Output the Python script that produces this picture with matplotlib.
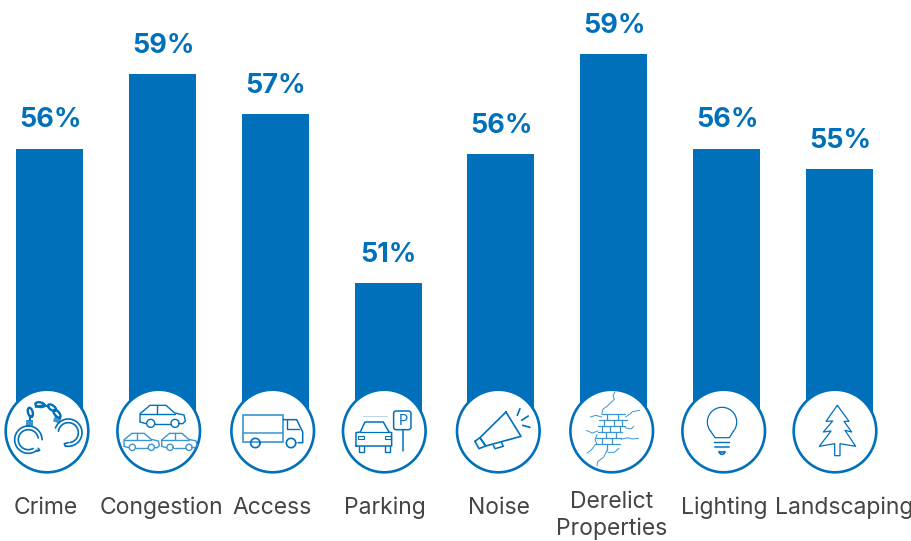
#!/usr/bin/env python3
import numpy as np
import matplotlib
matplotlib.use("Agg")
import matplotlib.pyplot as plt
from matplotlib.patches import Circle, FancyBboxPatch, Rectangle

# =========================
# 1. Data
# =========================
categories = ["Crime", "Congestion", "Access", "Parking", "Noise",
              "Derelict\nProperties", "Lighting", "Landscaping"]
values = [55.93, 58.68, 57.21, 51.0, 55.74, 59.42, 55.93, 55.19]

BLUE = "#0070BB"
LIGHT = "#3C94D0"
GREY = "#444444"
W, H = 912, 541
BASE_PX = 430          # bar foot, hidden behind the round badges
PX_PER_PCT = 27.2
BAR_STEP = 112.86
BAR_LEFT = 49.5

badge_x = [47, 158.7, 272.7, 384.3, 498.3, 611.7, 723.7, 835]
badge_y = 431
label_x = [46, 161, 272, 385, 499, 612, 724, 844]

plt.rcParams["font.family"] = ["Inter", "DejaVu Sans"]
fig = plt.figure(figsize=(W / 100, H / 100), dpi=100)

# =========================
# 2. Bars with value labels
# =========================
# y limits put 51% at pixel row 283
y_top = 51 + 283 / PX_PER_PCT
y_base = 51 - (BASE_PX - 283) / PX_PER_PCT
ax = fig.add_axes([0, 1 - BASE_PX / H, 1, BASE_PX / H])
ax.set_xlim(-BAR_LEFT / BAR_STEP, (W - BAR_LEFT) / BAR_STEP)
ax.set_ylim(y_base, y_top)
ax.axis("off")

xpos = np.arange(len(values))
bars = ax.bar(xpos, np.array(values) - y_base, bottom=y_base,
              width=67 / BAR_STEP, color=BLUE)
for rect, val in zip(bars, values):
    ax.annotate(f"{val:.0f}%", (rect.get_x() + rect.get_width() / 2, val),
                xytext=(0.5, 20.5), textcoords="offset points",
                ha="center", va="center", fontsize=19.5, fontweight="bold",
                color=BLUE, annotation_clip=False)

# =========================
# 3. Badges, in pixel coordinates
# =========================
ov = fig.add_axes([0, 0, 1, 1], facecolor="none")
ov.set_xlim(0, W)
ov.set_ylim(H, 0)
ov.axis("off")


def line(cx, pts, color=BLUE, lw=1.0, closed=False):
    # pts are offsets from the badge centre, on a 3x grid
    pts = np.array(pts, dtype=float) / 3
    if closed:
        pts = np.vstack([pts, pts[0]])
    ov.plot(cx + pts[:, 0], badge_y + pts[:, 1], color=color, lw=lw,
            solid_capstyle="round", solid_joinstyle="round")


def arc(cx, ox, oy, r, a0, a1, color=BLUE, lw=1.0):
    t = np.radians(np.linspace(a0, a1, 60))
    line(cx, np.column_stack([ox + r * np.cos(t), oy + r * np.sin(t)]), color, lw)


def car(cx, ox, oy, s=1.0, color=BLUE, lw=1.0):
    # side-on car, ox/oy = left end of the sill
    body = [(0, -5), (0, -30), (30, -55), (78, -55), (104, -32), (132, -26),
            (136, -8), (128, 0), (118, 0)]
    body = [(ox + a * s, oy + b * s) for a, b in body]
    line(cx, body, color, lw)
    line(cx, [(ox + 46 * s, oy), (ox + 92 * s, oy)], color, lw)
    line(cx, [(ox, oy - 5 * s), (ox + 18 * s, oy)], color, lw)
    line(cx, [(ox + 50 * s, oy - 55 * s), (ox + 50 * s, oy - 30 * s)], color, lw)
    line(cx, [(ox, oy - 30 * s), (ox + 104 * s, oy - 30 * s)], color, lw)
    arc(cx, ox + 32 * s, oy - 1, 12 * s, 0, 360, color, lw)
    arc(cx, ox + 105 * s, oy - 1, 12 * s, 0, 360, color, lw)


def icon_crime(cx):
    # left and right cuffs, each a double ring with an opening
    arc(cx, -56, 26, 41, 50, 360, lw=1.2)
    arc(cx, -56, 26, 30, 62, 350, lw=1.2)
    line(cx, [(-30, 61), (-22, 58), (-26, 52)], lw=1.2)
    arc(cx, 64, 5, 41, -160, 100, lw=1.2)
    arc(cx, 64, 5, 30, -172, 80, lw=1.2)
    line(cx, [(55, 46), (52, 38), (64, 35)], lw=1.2)
    # hinge blocks on the cuffs
    ov.add_patch(Rectangle((cx - 64 / 3, badge_y - 34 / 3), 7, 7, color=LIGHT, lw=0))
    ov.add_patch(Rectangle((cx + 24 / 3, badge_y - 46 / 3), 7, 6, angle=20, color=LIGHT, lw=0))
    # chain links
    for ox, oy, ang in [(-50, -56, 75), (-21, -79, 10), (15, -70, 35), (30, -52, 50)]:
        t = np.linspace(0, 2 * np.pi, 40)
        a = np.radians(ang)
        ex, ey = 14 * np.cos(t), 7 * np.sin(t)
        line(cx, np.column_stack([ox + ex * np.cos(a) - ey * np.sin(a),
                                  oy + ex * np.sin(a) + ey * np.cos(a)]), lw=1.7)
    line(cx, [(-50, -44), (-50, -32)], lw=1.6)
    line(cx, [(-34, -72), (-10, -78)], lw=1.4)
    line(cx, [(-8, -76), (6, -74)], lw=1.4)


def icon_congestion(cx):
    car(cx, -56, -22, 1.0)
    car(cx, -104, 50, 0.78, LIGHT)
    car(cx, 9, 50, 0.78, LIGHT)


def icon_access(cx):
    ov.add_patch(Rectangle((cx - 88 / 3, badge_y - 47 / 3), 120 / 3, 80 / 3,
                           fill=False, ec=LIGHT, lw=1.2))
    line(cx, [(-88, 5), (32, 5)], LIGHT, lw=1.1)
    line(cx, [(32, -34), (72, -34), (90, 3), (90, 35), (76, 35)], lw=1.1)
    line(cx, [(42, -34), (42, -5), (80, -5)], lw=1.0)
    arc(cx, -52, 36, 14, 0, 360, lw=1.2)
    arc(cx, 55, 36, 14, 0, 360, lw=1.2)


def icon_parking(cx):
    line(cx, [(-85, 45), (-85, 5), (-72, 3), (-58, -27), (-3, -27), (14, 3),
              (22, 5), (22, 45), (-85, 45)], lw=1.1)
    line(cx, [(-72, 3), (14, 3)], lw=0.9)
    line(cx, [(-75, 45), (-75, 62), (-62, 62), (-62, 45)], lw=1.0)
    line(cx, [(2, 45), (2, 62), (16, 62), (16, 45)], lw=1.0)
    ov.add_patch(Rectangle((cx - 78 / 3, badge_y + 16 / 3), 18 / 3, 3,
                           fill=False, ec=BLUE, lw=0.8))
    ov.add_patch(Rectangle((cx + 1 / 3, badge_y + 16 / 3), 18 / 3, 3,
                           fill=False, ec=BLUE, lw=0.8))
    line(cx, [(-65, -44), (8, -44)], color="#A9CFE8", lw=0.6)
    ov.add_patch(FancyBboxPatch((cx + 31 / 3, badge_y - 57 / 3), 46 / 3, 50 / 3,
                                boxstyle="round,pad=1,rounding_size=2.5",
                                fill=False, ec=BLUE, lw=1.1))
    ov.text(cx + 56 / 3, badge_y - 30 / 3, "P", ha="center", va="center",
            fontsize=10.5, color=BLUE)
    line(cx, [(55, -2), (55, 60)], lw=1.1)


def icon_noise(cx):
    line(cx, [(23, -57), (68, 16), (-38, 45), (-55, 20)], lw=1.2, closed=True)
    line(cx, [(-70, 31), (-55, 20), (-38, 45), (-58, 53)], lw=1.2, closed=True)
    line(cx, [(-15, 43), (-10, 53), (15, 46), (10, 35)], lw=1.1)
    line(cx, [(57, -47), (65, -67)], lw=1.2)
    line(cx, [(70, -32), (90, -45)], lw=1.2)
    line(cx, [(73, -17), (95, -11)], lw=1.2)


def icon_derelict(cx):
    # brick courses
    for y0, x0, x1 in [(-50, -30, 40), (-32, -38, 45), (-14, -42, 40),
                       (4, -42, 30), (22, -46, 28), (40, -50, 25)]:
        line(cx, [(x0, y0), (x1, y0)], LIGHT, 0.9)
    for x0, y0 in [(-14, -50), (18, -50), (-24, -32), (6, -32), (32, -32),
                   (-30, -14), (-4, -14), (24, -14), (-16, 4), (14, 4),
                   (-30, 22), (2, 22), (-14, 40)]:
        line(cx, [(x0, y0), (x0, y0 + 18)], LIGHT, 0.9)
    # cracks running out of the brickwork
    cracks = [
        [(-30, -50), (-26, -66), (-14, -74), (8, -95), (4, -105), (10, -118)],
        [(-30, -42), (-48, -47), (-64, -42)],
        [(42, -42), (56, -52), (62, -58), (84, -62)],
        [(40, -10), (58, -6), (66, -14)],
        [(-42, 0), (-58, 6), (-76, -2)],
        [(28, 25), (48, 20), (62, 24), (80, 22)],
        [(-50, 42), (-62, 58), (-74, 66)],
        [(-14, 58), (-24, 78), (-42, 92), (-44, 104)],
        [(22, 52), (8, 64), (-12, 64)],
        [(-44, 10), (-50, 26), (-44, 40)],
    ]
    for c in cracks:
        line(cx, c, LIGHT, 0.7)


def icon_lighting(cx):
    arc(cx, -5, -27, 44, 140, 400, lw=0.9)
    line(cx, [(-39, 1), (-26, 20), (17, 20), (29, 1)], lw=0.9)
    line(cx, [(-28, 33), (17, 33)], lw=1.0)
    line(cx, [(-26, 48), (16, 48)], LIGHT, 1.5)
    arc(cx, -5, 62, 8, 0, 180, lw=1.2)
    line(cx, [(-13, 62), (3, 62)], lw=1.2)


def icon_landscaping(cx):
    line(cx, [(7, -77), (42, -29), (27, -29), (50, 3), (30, -2), (62, 46),
              (15, 38), (15, 74), (-1, 74), (-1, 38), (-47, 46), (-12, 0),
              (-35, 3), (-7, -30), (-27, -29)], lw=0.9, closed=True)


icons = [icon_crime, icon_congestion, icon_access, icon_parking,
         icon_noise, icon_derelict, icon_lighting, icon_landscaping]

for cx, draw_icon in zip(badge_x, icons):
    ov.add_patch(Circle((cx, badge_y), 41.3, fc="white", ec=BLUE, lw=1.9))
    draw_icon(cx)

# =========================
# 4. Category labels
# =========================
for lx, name in zip(label_x, categories):
    ypx = 515.5 if "\n" in name else 507.5
    ov.text(lx, ypx, name, ha="center", va="center", fontsize=16.5,
            color=GREY, linespacing=1.24)

fig.savefig("out.png", dpi=100)
